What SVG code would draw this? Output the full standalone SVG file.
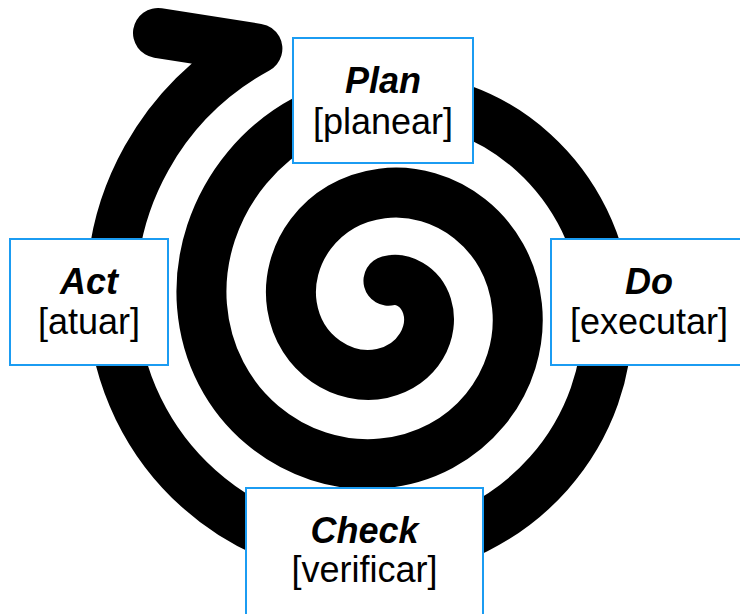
<svg xmlns="http://www.w3.org/2000/svg" width="740" height="614" viewBox="0 0 740 614">
<style>
.spiral{fill:none;stroke:#000;stroke-width:50;stroke-linecap:round;stroke-linejoin:round}
.box{fill:#fff;stroke:#1B9CF2;stroke-width:2}
.t1{font-family:"Liberation Sans",Arial,sans-serif;font-size:36px;font-weight:bold;font-style:italic;fill:#000;text-anchor:middle}
.t2{font-family:"Liberation Sans",Arial,sans-serif;font-size:36px;fill:#000;text-anchor:middle}
</style>
<g id="connectors">
<path class="spiral" d="M388.45,280.73 C401.61,277.34 420.46,285.45 427,306 C434.91,330.85 419.28,365.59 382,373.5 C344.72,381.41 299.91,355.71 292,306 C284.09,256.29 319.87,201.41 382,193.5 C444.13,185.59 509.09,231.44 517,306 C524.91,380.56 468.99,455.59 382,463.5 C295.01,471.41 209.91,405.41 202,306 C194.09,206.59 270.16,105.91 382,98 C493.84,90.09 599.09,181.73 607,306 C614.91,430.27 518.69,545.59 382,553.5 C245.31,561.41 119.91,455.12 112,306 C106.51,202.45 161.07,101.33 257.4,48.6 L158,33"/>
</g>
<g id="plan">
<rect class="box" x="293" y="38" width="180" height="125"/>
<text class="t1" x="383" y="93">Plan</text>
<text class="t2" x="383" y="134">[planear]</text>
</g>
<g id="do">
<rect class="box" x="551" y="239" width="192" height="126"/>
<text class="t1" x="649" y="294">Do</text>
<text class="t2" x="649" y="334">[executar]</text>
</g>
<g id="act">
<rect class="box" x="10" y="239" width="158" height="126"/>
<text class="t1" x="89" y="294">Act</text>
<text class="t2" x="89" y="334">[atuar]</text>
</g>
<g id="check">
<rect class="box" x="246" y="488" width="237" height="130"/>
<text class="t1" x="364.5" y="543">Check</text>
<text class="t2" x="364.5" y="582">[verificar]</text>
</g>
</svg>
